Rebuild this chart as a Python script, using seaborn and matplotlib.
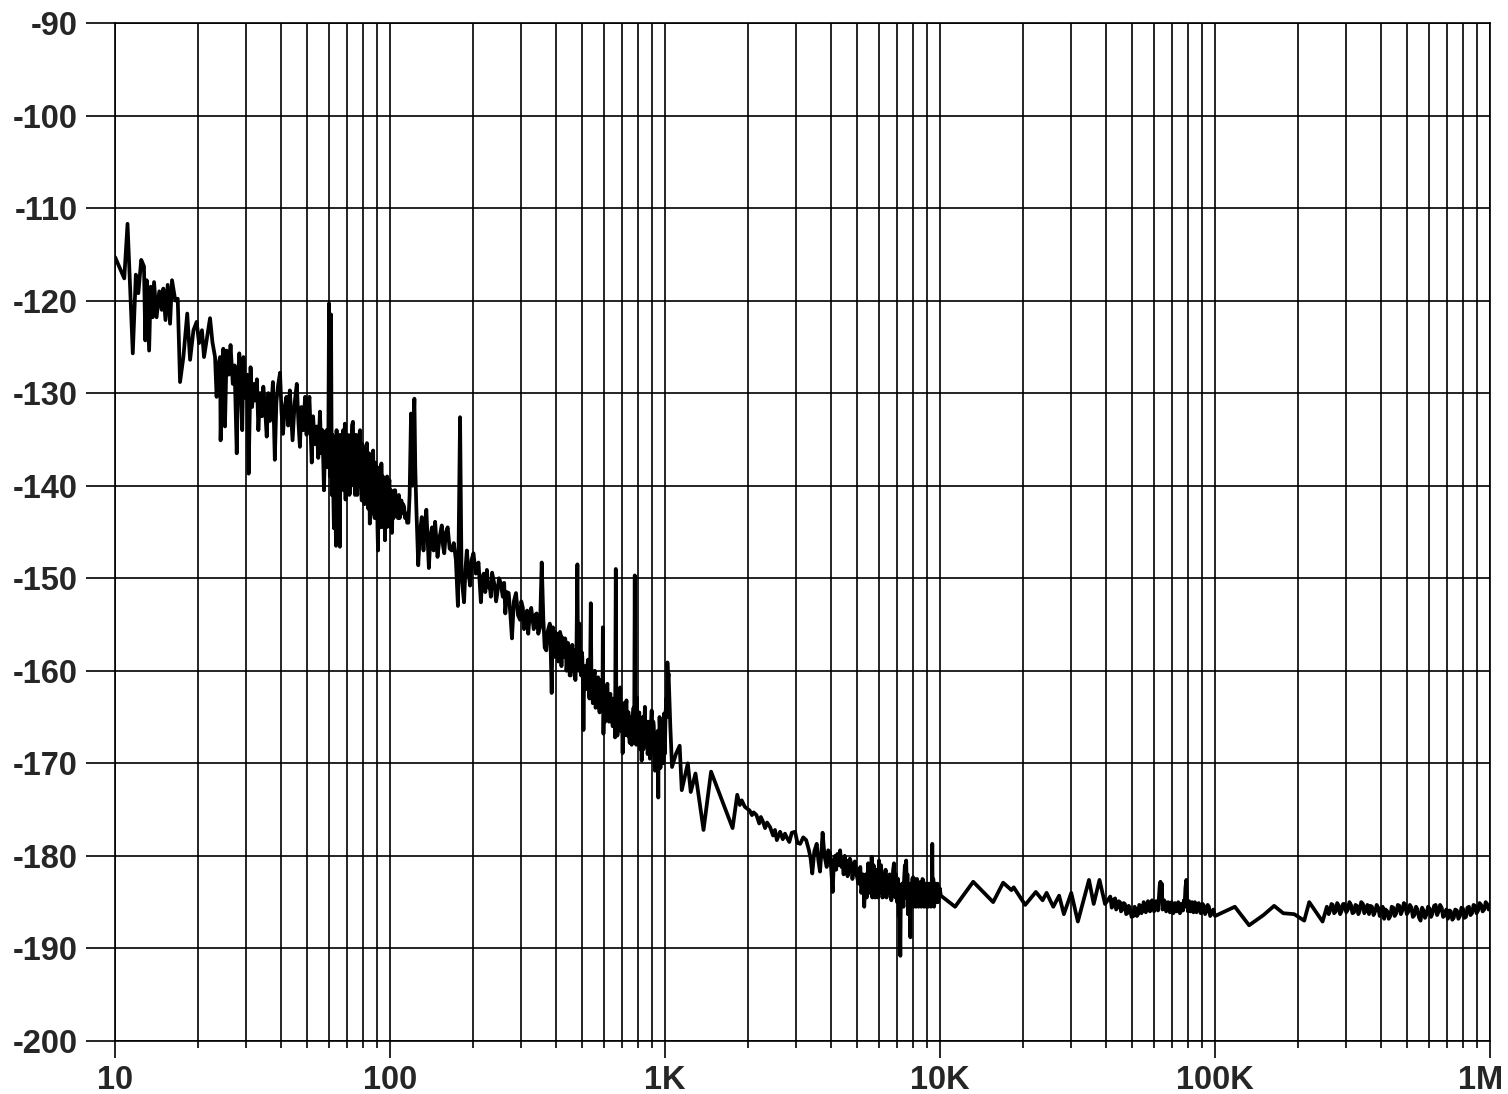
import numpy as np
import pandas as pd
import matplotlib
matplotlib.use('Agg')
import matplotlib.pyplot as plt
import matplotlib.ticker as mticker
import matplotlib.transforms as mtransforms
import seaborn as sns

# --- data (frequency in Hz, level in dB) ---
# 10 Hz .. 60 Hz
freq_low = [10, 10.8, 11.1, 11.6, 11.9, 12.15, 12.45, 12.74, 12.88, 13.03, 13.3, 13.48, 13.7,
            13.86, 14.16, 14.48, 14.78, 14.98, 15.25, 15.54, 15.85, 16.11, 16.56, 16.9, 17.23,
            17.72, 18.3, 18.74, 19.28, 19.8, 20.2, 20.7, 21.06, 21.6, 22.15, 22.6,
            23.1, 23.4, 23.7, 24.1, 24.2, 24.5, 24.75, 25.1, 25.46, 25.9, 26.3, 26.8, 27.2,
            27.7, 28.0, 28.3, 28.7, 29.0, 29.3, 29.8, 30.2, 30.6, 31.1, 31.5, 31.9, 32.3,
            32.8, 33.2, 33.7, 34.2, 34.6, 35.1, 35.6, 36.1, 36.6, 37.1, 37.5, 38.1, 38.6,
            39.1, 39.8, 40.3, 40.8, 41.4, 42.0, 42.6, 43.2, 43.7, 44.2, 45.0, 45.8, 46.4,
            47.0, 47.6, 48.3, 49.1, 49.7, 50.3, 50.9, 51.4, 51.9, 52.5, 53.2, 54.1, 54.8,
            55.6, 56.2, 56.8, 57.5, 58.1, 58.8, 59.2]
level_low = [-115.3, -117.6, -111.7, -125.7, -117.2, -119.2, -115.6, -116.3, -124.3, -117.8,
             -125.4, -118.5, -121.8, -118.0, -121.8, -119.0, -121.0, -118.7, -122.1, -118.3,
             -122.5, -117.8, -120.0, -119.8, -128.8, -126.1, -121.4, -126.4, -123.2, -122.3,
             -124.6, -123.2, -126.1, -124.0, -121.9, -124.5,
             -126.1, -130.4, -127.0, -126.1, -135.1, -127.5, -125.2, -133.6, -125.4, -128.0,
             -124.8, -129.0, -127.0, -136.5, -128.5, -125.7, -130.0, -134.0, -126.1, -130.5,
             -128.0, -138.7, -127.2, -131.5, -129.0, -130.8, -128.5, -134.0, -130.0, -132.5,
             -129.3, -131.5, -134.7, -130.0, -133.0, -131.0, -128.8, -137.2, -131.0, -129.3,
             -127.8, -132.0, -134.4, -131.5, -130.4, -133.5, -129.7, -132.5, -135.1, -131.0,
             -129.0, -133.0, -135.8, -131.5, -134.0, -130.4, -134.5, -132.0, -130.4, -134.0,
             -137.5, -132.5, -135.5, -133.6, -137.0, -132.0, -136.5, -134.0, -140.5, -135.0,
             -134.0, -138.0]

# 60 Hz .. 200 Hz (mains harmonics)
freq_mains = [59.6, 60.0, 60.4, 61.0, 61.4, 61.7, 62.0, 62.5, 62.8, 63.1, 63.6, 63.9, 64.3,
              64.6, 65.0, 65.4, 65.7, 66.0, 66.4, 66.8, 67.1, 67.5, 67.8, 68.2, 68.5, 68.9,
              69.2, 69.6, 70.0, 70.4, 70.7, 71.1, 71.5, 71.9, 72.3, 72.7, 73.3, 73.7, 74.2,
              74.6, 75.1, 75.5, 76.0, 76.4, 76.9, 77.3, 77.8, 78.3, 78.9, 79.3, 79.8, 80.2,
              80.7, 81.1, 81.6, 82.0, 82.4, 82.9, 83.4, 83.9, 84.4, 84.9, 85.4, 85.9, 86.4,
              86.8, 87.3, 87.9, 88.4, 89.1, 89.6, 90.0, 90.4, 90.9, 91.4, 91.9, 92.5, 93.0,
              93.6, 94.2, 94.8, 95.3, 95.8, 96.4, 97.0, 97.6, 98.2, 98.8, 99.5, 100.1, 100.8,
              101.6, 102.3, 103.0, 103.7, 104.4, 105.2, 106.0, 106.8, 107.6, 108.4, 109.2,
              110.0, 110.8, 111.6, 112.5, 113.4, 114.4, 115.4, 116.6, 117.8, 119.2, 120.0,
              120.8, 121.8, 122.6, 123.5, 124.5, 126.6, 128.5, 130.4, 132.3, 134.0, 135.5,
              137.0, 138.4, 140.2, 142.1, 144.0, 145.8, 148.8, 151.5, 154.2, 155.8, 157.4,
              159.7, 162.0, 164.7, 167.4, 170.5, 173.5, 176.5, 179.7, 182.0, 185.8, 188.0,
              190.2, 193.0, 195.5, 198.0, 201.0]
level_mains = [-137.0, -120.3, -139.0, -121.5, -141.0, -134.5, -139.0, -144.6, -135.0, -140.5,
               -146.5, -134.0, -139.0, -135.5, -141.5, -137.0, -146.6, -134.5, -140.0, -135.0,
               -139.5, -134.0, -140.5, -135.5, -133.3, -141.5, -136.0, -140.0, -134.5, -139.5,
               -135.5, -141.0, -140.8, -134.5, -138.5, -133.5, -133.1, -140.0, -135.0, -141.0,
               -134.5, -139.5, -141.0, -135.5, -140.0, -134.5, -134.0, -139.5, -141.6, -135.5,
               -140.5, -136.0, -142.0, -136.5, -141.0, -135.8, -135.4, -141.5, -142.5, -136.5,
               -144.1, -137.5, -142.5, -137.0, -143.0, -136.2, -142.0, -143.5, -137.5, -143.0,
               -138.0, -144.5, -147.0, -138.5, -143.0, -138.0, -144.5, -137.6, -143.0, -139.0,
               -144.5, -139.5, -145.9, -140.0, -144.5, -139.0, -144.0, -140.0, -139.4, -144.5,
               -140.5, -145.1, -141.0, -143.5, -140.5, -140.5, -143.0, -141.5, -143.5, -141.0,
               -143.5, -142.0, -141.6, -143.0, -142.0, -142.3, -143.5, -143.0, -144.0, -144.0,
               -141.0, -132.2, -139.0, -140.0, -133.0, -130.6, -138.0, -142.0, -148.6, -145.0,
               -143.4, -147.0, -144.0, -142.6, -146.0, -148.9, -145.5, -144.5, -147.0, -143.9,
               -147.7, -145.5, -144.3, -146.5, -147.3, -145.0, -144.5, -146.8, -147.0, -146.2,
               -148.0, -153.0, -132.6, -150.0, -152.6, -149.0, -147.0, -149.5, -150.8, -148.0,
               -147.3]

# 200 Hz .. 1.15 kHz
freq_mid = [205, 209.7, 213.9, 216.5, 219, 222, 225, 227.5, 230, 232.5, 235, 240, 243, 245.5,
            249, 252.5, 257, 260, 262.5, 266, 270, 274, 277.5, 282, 287, 292, 297, 300, 304,
            307, 311, 315, 318, 322, 326, 333, 337, 341, 346, 351, 356, 361, 365, 370, 373,
            376, 381, 384, 387, 389, 391, 394, 396, 399, 401, 404, 406, 409, 412, 415, 418,
            420, 423, 427, 430, 433, 436, 438, 440, 444, 447, 450, 454, 457, 460, 463, 466,
            469, 472, 476, 480, 482, 484, 486, 488, 491, 495, 498, 500, 503, 505, 508, 512,
            515, 518, 521, 525, 528, 531, 534, 537, 540, 543, 546, 549, 552, 555, 559, 563,
            567, 571, 574, 578, 581, 585, 588, 590, 592, 594, 597, 600, 603, 606, 610, 613,
            617, 621, 625, 629, 633, 636, 640, 645, 650, 654, 658, 662, 665, 668, 671, 675,
            678, 681, 684, 687, 690, 694, 697, 701, 704, 708, 712, 716, 720, 724, 727, 730,
            733, 737, 740, 744, 748, 752, 756, 760, 764, 768, 772, 776, 779, 782, 786, 790,
            794, 798, 802, 806, 810, 814, 818, 822, 826, 830, 834, 837, 841, 845, 848, 852,
            856, 860, 864, 869, 873, 877, 881, 885, 889, 894, 898, 902, 906, 910, 914, 919,
            923, 927, 931, 935, 940, 945, 948, 952, 955, 958, 962, 965, 969, 972, 976, 980,
            983, 986, 990, 993, 997, 1000, 1005, 1010, 1015, 1020, 1025, 1030, 1045, 1060,
            1095, 1130, 1150]
level_mid = [-149.5, -148.3, -152.6, -150.0, -149.5, -151.5, -149.1, -151.0, -150.5, -152.0,
             -149.4, -150.8, -152.5, -151.6, -150.0, -150.5, -152.0, -150.5, -153.8, -151.5,
             -151.6, -154.0, -156.5, -152.5, -151.6, -154.0, -154.5, -152.5, -153.2, -155.5,
             -155.0, -153.5, -156.0, -154.0, -153.2, -155.5, -154.0, -153.8, -156.0, -155.3,
             -148.3, -154.5, -157.5, -157.8, -156.0, -155.5, -154.9, -158.0, -162.4, -157.5,
             -155.3, -158.5, -157.0, -155.8, -158.5, -156.5, -156.0, -159.0, -157.5, -155.8,
             -156.2, -159.5, -156.4, -158.0, -158.5, -156.5, -157.0, -160.0, -159.2, -157.0,
             -157.5, -160.5, -160.5, -158.0, -157.2, -160.0, -157.8, -159.5, -161.0, -158.5,
             -148.5, -157.0, -156.0, -160.0, -154.9, -158.5, -160.5, -158.0, -158.5, -161.5,
             -166.4, -160.0, -159.5, -162.0, -161.4, -159.5, -158.8, -162.0, -163.0, -160.0,
             -152.7, -161.5, -160.5, -163.5, -163.2, -160.5, -160.0, -164.0, -163.5, -161.0,
             -160.7, -163.5, -164.5, -161.5, -161.0, -164.0, -162.5, -163.5, -155.3, -166.8,
             -162.5, -162.0, -165.5, -164.5, -162.0, -161.4, -164.5, -165.5, -162.5, -162.5,
             -165.5, -163.0, -166.0, -164.0, -163.0, -167.2, -149.0, -164.5, -164.0, -167.0,
             -166.0, -163.5, -162.8, -165.5, -161.8, -165.0, -166.5, -164.0, -168.9, -165.5,
             -163.5, -167.0, -166.5, -164.0, -163.2, -166.5, -167.0, -164.5, -164.5, -167.0,
             -167.8, -165.0, -165.0, -168.0, -166.5, -165.0, -164.0, -167.5, -149.7, -166.0,
             -165.5, -168.0, -162.9, -166.5, -167.0, -165.0, -164.5, -167.5, -168.5, -166.0,
             -169.7, -166.5, -165.0, -168.5, -167.5, -165.5, -163.9, -167.5, -168.0, -166.0,
             -165.5, -169.0, -168.3, -165.5, -166.0, -169.5, -169.0, -166.0, -164.3, -168.5,
             -167.5, -165.5, -166.0, -169.0, -170.8, -167.5, -167.0, -170.5, -169.0, -166.5,
             -173.7, -167.0, -168.5, -165.0, -166.1, -170.5, -169.5, -166.5, -165.5, -169.5,
             -168.0, -165.5, -170.0, -167.0, -164.6, -169.0, -167.5, -164.5, -163.0, -165.0,
             -159.1, -161.0, -160.3, -166.0, -170.4, -169.0, -168.1, -172.9]

# 1.15 kHz .. 5 kHz
freq_knee = [1210, 1240, 1290, 1380, 1470, 1760, 1830, 1870, 1900, 1950, 1990, 2030, 2070,
             2100, 2150, 2200, 2230, 2270, 2310, 2350, 2410, 2470, 2510, 2550, 2620, 2680,
             2730, 2770, 2830, 2890, 2970, 3030, 3100, 3180, 3260, 3330, 3380, 3430, 3490,
             3560, 3610, 3660, 3700, 3740, 3800, 3870, 3920, 3980, 4020, 4070, 4110, 4150,
             4190, 4230, 4280, 4330, 4380, 4420, 4460, 4500, 4540, 4570, 4610, 4650, 4700,
             4750, 4800, 4850, 4900, 4960]
level_knee = [-170.0, -173.1, -171.1, -177.2, -170.9, -177.0, -173.4, -174.5, -174.0, -174.7,
              -174.9, -175.1, -175.6, -175.3, -175.6, -176.5, -175.8, -176.3, -177.0, -176.4,
              -176.9, -177.8, -177.2, -178.3, -177.4, -178.2, -177.6, -178.0, -178.5, -177.5,
              -177.4, -178.6, -178.7, -178.0, -178.3, -179.3, -180.2, -181.9, -179.5, -178.7,
              -180.5, -181.7, -179.8, -177.5, -180.0, -181.2, -179.4, -179.7, -181.5, -183.9,
              -180.5, -180.0, -181.5, -179.8, -181.0, -179.4, -181.2, -180.5, -182.0, -180.0,
              -181.5, -180.5, -182.2, -181.5, -180.3, -180.8, -182.5, -181.6, -180.6, -181.9]

# 5 kHz .. 40 kHz
freq_hf = [5050, 5090, 5130, 5170, 5200, 5250, 5300, 5340, 5370, 5410, 5440, 5480, 5520, 5550,
           5580, 5610, 5640, 5670, 5700, 5730, 5760, 5800, 5830, 5870, 5900, 5950, 6000, 6030,
           6060, 6100, 6130, 6170, 6200, 6240, 6270, 6300, 6340, 6390, 6440, 6480, 6520, 6560,
           6600, 6650, 6700, 6750, 6800, 6840, 6880, 6920, 6950, 6980, 7000, 7040, 7080, 7120,
           7170, 7200, 7240, 7280, 7320, 7360, 7400, 7450, 7490, 7530, 7580, 7610, 7640, 7670,
           7700, 7750, 7800, 7830, 7870, 7920, 7980, 8010, 8050, 8090, 8130, 8170, 8210, 8250,
           8300, 8350, 8400, 8450, 8500, 8540, 8580, 8630, 8680, 8740, 8800, 8860, 8920, 8960,
           9000, 9050, 9100, 9150, 9200, 9250, 9300, 9340, 9370, 9400, 9420, 9450, 9470, 9510,
           9550, 9600, 9650, 9700, 9790, 9850, 9900, 9970, 10070, 11340, 13200, 15600, 16960,
           18180, 18530, 20400, 22300, 23600, 24400, 25800, 27100, 28200, 30000, 31700, 34800,
           36200, 38000, 39800]
level_hf = [-183.0, -181.5, -181.2, -184.0, -183.5, -182.0, -185.5, -183.0, -182.0, -184.5,
            -182.6, -180.8, -184.0, -182.5, -181.0, -183.5, -180.1, -184.5, -183.5, -181.0,
            -181.5, -184.5, -184.1, -181.5, -182.0, -184.5, -180.5, -184.0, -183.0, -181.0,
            -182.0, -184.5, -184.0, -182.0, -184.4, -182.5, -181.5, -184.5, -182.3, -184.0,
            -184.0, -182.0, -182.5, -184.8, -183.5, -181.5, -180.8, -184.0, -184.5, -182.0,
            -183.0, -185.0, -183.7, -182.5, -186.5, -184.0, -190.8, -184.5, -185.0, -183.0,
            -184.1, -185.5, -182.5, -181.0, -184.5, -180.5, -184.5, -182.0, -186.3, -184.0,
            -183.0, -185.5, -188.8, -184.0, -184.5, -182.5, -182.3, -185.5, -185.0, -182.5,
            -183.0, -185.5, -184.8, -182.5, -183.5, -185.5, -185.0, -183.0, -182.8, -185.5,
            -184.5, -182.5, -182.6, -185.5, -185.0, -183.0, -185.5, -183.5, -183.0, -185.5,
            -184.8, -183.0, -183.5, -185.5, -185.0, -183.5, -178.7, -185.0, -184.0, -182.5,
            -183.7, -185.5, -185.0, -183.0, -183.5, -185.0, -183.0, -185.0, -184.5, -183.5,
            -184.3, -185.5, -182.8, -185.0, -182.9, -183.7, -183.4, -185.3, -183.9, -184.8,
            -184.0, -185.5, -184.3, -186.3, -184.0, -187.1, -182.6, -185.2, -182.6, -185.2]

# 40 kHz .. 1 MHz
freq_flat = [41600, 42100, 42500, 42900, 43300, 43700, 44200, 44600, 45100, 45500, 46000,
             46500, 47000, 47500, 48000, 48500, 49000, 49700, 50500, 51000, 51500, 52000,
             52500, 53000, 53500, 54000, 54500, 55000, 55500, 56000, 56500, 57000, 57500,
             58000, 58500, 59000, 59500, 60000, 60500, 61000, 61500, 62000, 62500, 62900,
             63300, 63700, 64000, 64400, 64800, 65300, 65800, 66400, 67000, 67500, 68000,
             68500, 69000, 69500, 70000, 70500, 71000, 71500, 72000, 72500, 73000, 73500,
             74000, 74500, 75000, 75500, 76000, 76500, 77000, 77500, 78000, 78600, 79000,
             79300, 79700, 80000, 80500, 81000, 81500, 82000, 82500, 83000, 83500, 84000,
             84500, 85000, 85700, 86500, 87200, 88000, 88700, 89500, 90200, 91000, 92000,
             93000, 94000, 95000, 96000, 97000, 98500, 100000, 118000, 133000, 150000,
             164000, 177000, 194000, 211000, 220000, 246000, 255000, 259000, 262000, 265000,
             268000, 271000, 275000, 278000, 282000, 285000, 289000, 292000, 296000, 300000,
             304000, 308000, 312000, 316000, 320000, 324000, 328000, 332000, 336000, 340000,
             345000, 349000, 354000, 358000, 363000, 367000, 372000, 377000, 382000, 387000,
             392000, 397000, 402000, 407000, 412000, 417000, 423000, 428000, 434000, 439000,
             445000, 450000, 456000, 462000, 468000, 474000, 480000, 486000, 492000, 498000,
             505000, 511000, 518000, 524000, 531000, 538000, 545000, 552000, 559000, 566000,
             573000, 580000, 588000, 595000, 603000, 610000, 618000, 626000, 634000, 642000,
             650000, 658000, 667000, 675000, 684000, 693000, 702000, 711000, 720000, 729000,
             738000, 747000, 757000, 767000, 777000, 787000, 797000, 807000, 817000, 827000,
             838000, 849000, 860000, 871000, 882000, 893000, 905000, 916000, 928000, 940000,
             952000, 964000, 976000, 988000, 1000000]
level_flat = [-184.4, -185.6, -185.3, -184.7, -184.6, -185.8, -185.5, -184.9, -185.0, -186.0,
              -185.8, -185.1, -185.2, -186.3, -186.2, -185.4, -185.6, -186.6, -186.5, -185.5,
              -185.8, -186.5, -186.3, -185.3, -185.4, -186.2, -185.9, -185.0, -185.2, -186.1,
              -185.8, -184.9, -185.0, -186.0, -185.6, -184.8, -185.1, -186.0, -185.7, -184.9,
              -185.0, -185.9, -184.5, -183.2, -182.8, -184.5, -183.0, -185.8, -185.5, -184.8,
              -185.0, -186.0, -185.8, -185.0, -185.2, -186.1, -185.9, -185.0, -185.3, -186.2,
              -186.0, -185.1, -185.2, -186.0, -185.7, -185.0, -185.4, -186.2, -186.0, -185.2,
              -185.2, -185.9, -184.8, -185.5, -183.5, -182.6, -184.5, -185.0, -186.0, -185.6,
              -184.9, -185.2, -186.0, -185.8, -185.0, -185.3, -186.1, -185.7, -185.0, -185.2,
              -186.1, -185.8, -185.1, -185.3, -186.2, -185.9, -185.2, -185.4, -186.3, -186.0,
              -185.3, -185.5, -186.5, -186.3, -185.8, -186.5, -185.5, -187.5, -186.4, -185.4,
              -186.2, -186.3, -187.0, -185.0, -187.1, -185.5, -186.3, -185.9, -185.2, -185.3,
              -186.2, -186.0, -185.1, -185.4, -186.3, -185.9, -185.2, -185.2, -186.1, -185.8,
              -185.0, -185.3, -186.2, -186.1, -185.3, -185.4, -186.3, -185.9, -185.0, -185.2,
              -186.2, -185.8, -185.3, -186.3, -185.4, -185.5, -186.4, -186.0, -185.3, -185.6,
              -186.5, -186.2, -185.5, -186.8, -185.8, -186.0, -186.8, -186.5, -185.5, -185.6,
              -186.5, -186.2, -185.3, -185.4, -186.3, -185.9, -185.1, -185.3, -186.3, -186.0,
              -185.3, -185.6, -186.6, -186.4, -185.5, -185.8, -186.7, -187.0, -185.6, -185.9,
              -186.7, -186.3, -185.5, -185.7, -186.6, -186.2, -185.4, -185.3, -186.4, -186.0,
              -185.3, -185.6, -186.6, -186.4, -185.8, -186.8, -185.9, -186.0, -186.9, -186.7,
              -185.8, -185.9, -186.8, -186.5, -185.6, -185.7, -186.7, -186.6, -185.6, -185.5,
              -186.4, -186.2, -185.3, -185.4, -186.2, -185.9, -185.1, -185.3, -186.0, -185.8,
              -185.0, -185.2, -185.8, -185.4]

freq = freq_low + freq_mains + freq_mid + freq_knee + freq_hf + freq_flat
level = level_low + level_mains + level_mid + level_knee + level_hf + level_flat
df = pd.DataFrame({'freq': freq, 'level': level})

x_major = [10, 100, 1000, 10000, 100000, 1000000]
x_labels = ['10', '100', '1K', '10K', '100K', '1M']
y_ticks = [-200, -190, -180, -170, -160, -150, -140, -130, -120, -110, -100, -90]

sns.set_style('white')
plt.rcParams['font.family'] = ['Liberation Sans', 'DejaVu Sans']
plt.rcParams['font.weight'] = 'bold'

fig = plt.figure(figsize=(15.08, 10.94), dpi=100)
ax = fig.add_axes([0.0763, 0.0485, 0.9118, 0.9305])

sns.lineplot(data=df, x='freq', y='level', sort=False, estimator=None,
             color='black', linewidth=2.7, ax=ax)

ax.set_xscale('log')
ax.set_xlim(10, 1e6)
ax.set_ylim(-200, -90)

ax.xaxis.set_major_locator(mticker.FixedLocator(x_major))
ax.xaxis.set_major_formatter(mticker.FixedFormatter(x_labels))
ax.xaxis.set_minor_locator(mticker.LogLocator(base=10, subs=range(2, 10), numticks=20))
ax.xaxis.set_minor_formatter(mticker.NullFormatter())
ax.set_yticks(y_ticks)
ax.set_yticklabels([str(v) for v in y_ticks])

ax.grid(True, which='major', axis='both', color='black', linewidth=1.2)
ax.grid(True, which='minor', axis='x', color='black', linewidth=1.2)

ax.tick_params(axis='y', which='major', length=21, width=1.2, color='black',
               direction='out', pad=6, labelsize=23.5, left=True)
ax.tick_params(axis='x', which='major', length=12, width=1.2, color='black',
               direction='out', pad=5, labelsize=23.5, bottom=True)
ax.tick_params(axis='x', which='minor', length=5, width=1.2, color='black',
               direction='out', bottom=True)
for lab in ax.get_xticklabels() + ax.get_yticklabels():
    lab.set_fontweight('bold')

# the last label sits against the right edge of the picture
last = ax.get_xticklabels()[-1]
last.set_transform(last.get_transform() +
                   mtransforms.ScaledTranslation(-9 / 100, 0, fig.dpi_scale_trans))

for sp in ax.spines.values():
    sp.set_color('black')
    sp.set_linewidth(1.2)

ax.set_xlabel('')
ax.set_ylabel('')

fig.savefig('out.png', dpi=100)
